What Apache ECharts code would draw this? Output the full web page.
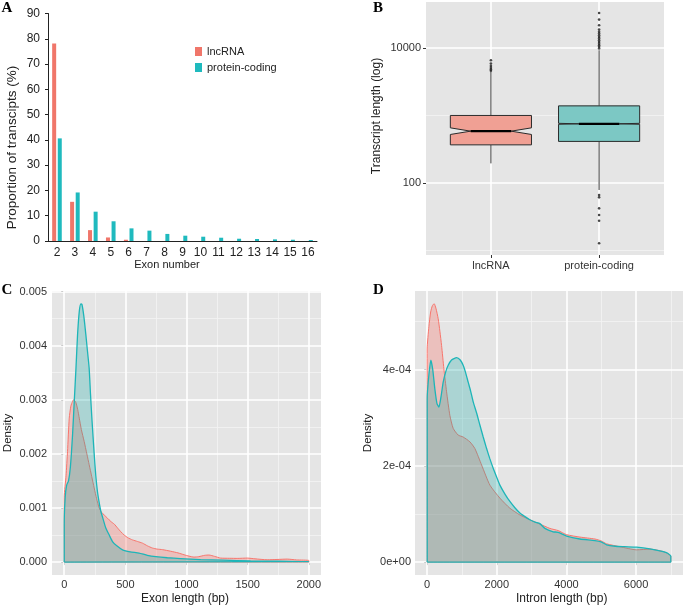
<!DOCTYPE html>
<html><head><meta charset="utf-8">
<script src="https://cdn.jsdelivr.net/npm/echarts@6/dist/echarts.min.js"></script>
<style>html,body{margin:0;padding:0;background:#fff}#c{width:685px;height:606px}</style>
</head><body><div id="c"></div>
<script>
// ---------- Panel A: exon number ----------
const exonNumbers = ['2','3','4','5','6','7','8','9','10','11','12','13','14','15','16'];
const lncExonPct = [78.1, 15.5, 4.3, 1.4, 0.5, 0, 0, 0, 0, 0, 0, 0, 0, 0, 0];
const pcExonPct = [40.6, 19.2, 11.6, 7.8, 5.0, 4.1, 2.8, 2.1, 1.7, 1.3, 0.9, 0.8, 0.65, 0.5, 0.4];

// ---------- Panel B: transcript length boxplot (log scale) ----------
const boxCategories = ['lncRNA', 'protein-coding'];
const boxPositions = [1, 2];
// [lower whisker, Q1, median, Q3, upper whisker, notch low, notch high]
const lncLengthStats = [196, 369, 589, 1007, 4460, 526, 660];
const pcLengthStats = [79, 415, 757, 1397, 9340, 745, 770];
const lncLengthOutliers = [4620, 4830, 5110, 5470, 5930, 6640];
const pcLengthOutliers = [9890, 10500, 11100, 11700, 12400, 13100, 13900, 14700, 15600, 16500, 17500, 18900, 21900, 26600, 33300, 66.4, 61.4, 42.2, 33.6, 27.6, 12.8];
const lengthTicks = [100, 10000];
const lengthMinorTicks = [10, 1000];

// ---------- Panel C: exon length density (density in units of 1e-3) ----------
const exonLenLncX = [0, 15, 27, 41, 54, 68, 77, 95, 110, 123, 140, 163, 185, 204, 225, 245, 265, 286, 305, 327, 354, 381, 410, 436, 463, 490, 520, 558, 600, 640, 680, 721, 760, 803, 871, 930, 980, 1020, 1061, 1100, 1150, 1184, 1230, 1279, 1350, 1420, 1497, 1560, 1660, 1740, 1824, 1900, 2000];
const exonLenLncD = [1.2, 1.6, 2.04, 2.66, 2.88, 2.97, 3.0, 2.95, 2.82, 2.66, 2.45, 2.23, 2.0, 1.80, 1.58, 1.37, 1.17, 1.0, 0.92, 0.87, 0.81, 0.75, 0.70, 0.63, 0.56, 0.50, 0.45, 0.41, 0.38, 0.35, 0.30, 0.26, 0.24, 0.23, 0.20, 0.17, 0.135, 0.11, 0.092, 0.10, 0.125, 0.13, 0.105, 0.074, 0.07, 0.068, 0.074, 0.06, 0.043, 0.048, 0.055, 0.04, 0.03];
const exonLenPcX = [0, 8, 20, 35, 50, 68, 82, 96, 109, 123, 136, 145, 160, 177, 190, 204, 215, 226, 245, 258, 272, 286, 300, 320, 340, 368, 395, 430, 477, 540, 612, 680, 749, 844, 950, 1116, 1300, 1524, 1750, 2000];
const exonLenPcD = [0.7, 1.2, 1.42, 1.5, 1.75, 2.35, 2.97, 3.58, 4.2, 4.63, 4.77, 4.76, 4.55, 4.2, 3.9, 3.58, 3.1, 2.66, 2.0, 1.6, 1.30, 1.1, 0.935, 0.78, 0.63, 0.5, 0.38, 0.3, 0.227, 0.19, 0.166, 0.125, 0.10, 0.08, 0.065, 0.045, 0.035, 0.022, 0.015, 0.01];
const exonLenTicks = [0, 500, 1000, 1500, 2000];
const exonLenMinor = [250, 750, 1250, 1750];
const exonDensTicks = [0, 0.001, 0.002, 0.003, 0.004, 0.005];
const exonDensMinor = [0.0005, 0.0015, 0.0025, 0.0035, 0.0045];

// ---------- Panel D: intron length density (density in units of 1e-4) ----------
const intronLenLncX = [0, 50, 100, 150, 201, 250, 316, 365, 414, 480, 557, 652, 747, 891, 1034, 1227, 1371, 1563, 1802, 2089, 2376, 2664, 2951, 3238, 3526, 3764, 4006, 4388, 4819, 5000, 5155, 5537, 6017, 6400, 6782, 6900, 7000];
const intronLenLncD = [4.43, 4.9, 5.2, 5.33, 5.37, 5.28, 5.06, 4.8, 4.50, 4.02, 3.54, 3.05, 2.78, 2.64, 2.60, 2.50, 2.36, 2.02, 1.60, 1.33, 1.12, 0.98, 0.88, 0.79, 0.70, 0.655, 0.57, 0.52, 0.48, 0.44, 0.38, 0.32, 0.255, 0.27, 0.22, 0.18, 0.12];
const intronLenPcX = [0, 50, 106, 160, 220, 280, 336, 400, 460, 530, 603, 700, 845, 950, 1034, 1100, 1178, 1250, 1322, 1420, 1514, 1610, 1707, 1800, 1897, 2000, 2089, 2230, 2376, 2520, 2664, 2800, 2951, 3100, 3238, 3382, 3621, 3764, 4006, 4388, 4819, 5000, 5155, 5400, 5670, 6017, 6400, 6782, 6900, 7000];
const intronLenPcD = [3.4, 3.9, 4.2, 4.0, 3.6, 3.3, 3.22, 3.45, 3.74, 3.95, 4.09, 4.2, 4.25, 4.2, 4.09, 3.95, 3.74, 3.55, 3.33, 3.1, 2.85, 2.6, 2.36, 2.15, 1.95, 1.76, 1.60, 1.42, 1.26, 1.13, 1.02, 0.95, 0.88, 0.83, 0.80, 0.70, 0.63, 0.62, 0.54, 0.48, 0.448, 0.42, 0.36, 0.33, 0.32, 0.31, 0.276, 0.22, 0.19, 0.12];
const intronLenTicks = [0, 2000, 4000, 6000];
const intronLenMinor = [1000, 3000, 5000, 7000];
const intronDensTicks = [0, 0.0002, 0.0004];
const intronDensMinor = [0.0001, 0.0003, 0.0005];

// ---------- axis ranges (ggplot-style 5% expansion) ----------
const rangeB = {x: [0.4, 2.6], y: [8.58, 48500]};
const rangeC = {x: [-100, 2100], y: [-0.000239, 0.00501]};
const rangeD = {x: [-350, 7350], y: [-0.0000268, 0.0005635]};

// ---------- helpers ----------
const FONT = 'Liberation Sans';
const RED = '#F8766D', TEAL = '#1DB5B8';
const RED_FILL = 'rgba(248,118,109,0.47)', TEAL_FILL = 'rgba(10,165,160,0.38)';
function closedCurve(xs, ds, unit) {
  const pts = [[xs[0], 0]];
  xs.forEach((x, i) => pts.push([x, ds[i] * unit]));
  pts.push([xs[xs.length - 1], 0]);
  pts.push([xs[0], 0]);
  return pts;
}
function gridLines(range, xMajor, xMinor, yMajor, yMinor) {
  const major = {color: '#FFFFFF', width: 1.6, type: 'solid', opacity: 1};
  const minor = {color: '#F4F4F4', width: 0.8, type: 'solid', opacity: 1};
  const d = [];
  const vx = (v, st) => d.push([{coord: [v, range.y[0]], lineStyle: st}, {coord: [v, range.y[1]]}]);
  const hy = (v, st) => d.push([{coord: [range.x[0], v], lineStyle: st}, {coord: [range.x[1], v]}]);
  xMinor.forEach(v => vx(v, minor));
  yMinor.forEach(v => hy(v, minor));
  xMajor.forEach(v => vx(v, major));
  yMajor.forEach(v => hy(v, major));
  return {silent: true, symbol: ['none', 'none'], z: 1, animation: false, label: {show: false}, emphasis: {disabled: true}, data: d};
}
function sciLabel(v) {
  if (v === 0) return '0e+00';
  const e = Math.floor(Math.log10(v) + 1e-9);
  const m = Math.round(v / Math.pow(10, e));
  return m + 'e-' + String(-e).padStart(2, '0');
}
const tickStyle = {show: true, length: 3, lineStyle: {color: '#333', width: 1}};
const lblStyle = {color: '#333', fontSize: 11, fontFamily: FONT};
const boxFills = ['#F0A094', '#7CC8C4'];

const chart = echarts.init(document.getElementById('c'), null, {renderer: 'canvas'});
const option = {
  animation: false,
  textStyle: {fontFamily: FONT},
  legend: {
    data: ['lncRNA', 'protein-coding'], orient: 'vertical', left: 190, top: 41,
    icon: 'rect', itemWidth: 7, itemHeight: 9, itemGap: 5, selectedMode: false,
    textStyle: {fontSize: 11, color: '#222', fontFamily: FONT}
  },
  grid: [
    {left: 48, top: 13.5, width: 269, height: 227.5, show: false},
    {left: 426, top: 2, width: 238, height: 253, show: true, backgroundColor: '#E5E5E5', borderWidth: 0},
    {left: 52, top: 291, width: 269, height: 284, show: true, backgroundColor: '#E5E5E5', borderWidth: 0},
    {left: 415, top: 291, width: 268, height: 284, show: true, backgroundColor: '#E5E5E5', borderWidth: 0}
  ],
  xAxis: [
    {gridIndex: 0, type: 'category', data: exonNumbers, boundaryGap: true,
     axisLine: {lineStyle: {color: '#222', width: 1}}, axisTick: {show: false},
     axisLabel: {color: '#222', fontSize: 12, margin: 6, fontFamily: FONT}, splitLine: {show: false}},
    {gridIndex: 1, type: 'value', min: rangeB.x[0], max: rangeB.x[1],
     axisLine: {show: false}, axisTick: Object.assign({customValues: boxPositions}, tickStyle),
     axisLabel: Object.assign({customValues: boxPositions, margin: 5,
       formatter: v => boxCategories[boxPositions.indexOf(v)]}, lblStyle),
     splitLine: {show: false}},
    {gridIndex: 2, type: 'value', min: rangeC.x[0], max: rangeC.x[1],
     axisLine: {show: false}, axisTick: Object.assign({customValues: exonLenTicks}, tickStyle),
     axisLabel: Object.assign({customValues: exonLenTicks, margin: 4, formatter: v => String(v)}, lblStyle),
     splitLine: {show: false}},
    {gridIndex: 3, type: 'value', min: rangeD.x[0], max: rangeD.x[1],
     axisLine: {show: false}, axisTick: Object.assign({customValues: intronLenTicks}, tickStyle),
     axisLabel: Object.assign({customValues: intronLenTicks, margin: 4, formatter: v => String(v)}, lblStyle),
     splitLine: {show: false}}
  ],
  yAxis: [
    {gridIndex: 0, type: 'value', min: 0, max: 90, interval: 10,
     axisLine: {show: true, lineStyle: {color: '#222', width: 1}},
     axisTick: {show: true, length: 3, lineStyle: {color: '#222'}},
     axisLabel: {color: '#222', fontSize: 12, margin: 8, fontFamily: FONT}, splitLine: {show: false}},
    {gridIndex: 1, type: 'log', logBase: 10, min: rangeB.y[0], max: rangeB.y[1],
     axisLine: {show: false}, axisTick: Object.assign({customValues: lengthTicks}, tickStyle),
     axisLabel: Object.assign({customValues: lengthTicks, margin: 5, formatter: v => String(Math.round(v))}, lblStyle),
     splitLine: {show: false}, minorSplitLine: {show: false}},
    {gridIndex: 2, type: 'value', min: rangeC.y[0], max: rangeC.y[1],
     axisLine: {show: false}, axisTick: Object.assign({customValues: exonDensTicks}, tickStyle),
     axisLabel: Object.assign({customValues: exonDensTicks, margin: 5, formatter: v => v.toFixed(3)}, lblStyle),
     splitLine: {show: false}},
    {gridIndex: 3, type: 'value', min: rangeD.y[0], max: rangeD.y[1],
     axisLine: {show: false}, axisTick: Object.assign({customValues: intronDensTicks}, tickStyle),
     axisLabel: Object.assign({customValues: intronDensTicks, margin: 4, formatter: sciLabel}, lblStyle),
     splitLine: {show: false}}
  ],
  series: [
    // Panel A
    {name: 'lncRNA', type: 'bar', xAxisIndex: 0, yAxisIndex: 0, data: lncExonPct,
     barWidth: 4, barGap: '40%', itemStyle: {color: '#F0766A'}},
    {name: 'protein-coding', type: 'bar', xAxisIndex: 0, yAxisIndex: 0, data: pcExonPct,
     barWidth: 4, barGap: '40%', itemStyle: {color: '#1FBABE'}},
    // Panel B outliers + grid lines
    {name: 'outliers', type: 'scatter', xAxisIndex: 1, yAxisIndex: 1, z: 4,
     data: lncLengthOutliers.map(v => [boxPositions[0], v]).concat(pcLengthOutliers.map(v => [boxPositions[1], v])),
     symbolSize: 2.6, itemStyle: {color: '#1a1a1a'},
     markLine: gridLines(rangeB, boxPositions, [], lengthTicks, lengthMinorTicks)},
    // Panel B boxes
    {name: 'boxes', type: 'custom', xAxisIndex: 1, yAxisIndex: 1, z: 3,
     data: [[boxPositions[0]].concat(lncLengthStats), [boxPositions[1]].concat(pcLengthStats)],
     encode: {x: 0, y: [1, 2, 3, 4, 5]},
     renderItem: function (params, api) {
       const x = api.value(0);
       const yv = k => api.coord([x, api.value(k)])[1];
       const xl = api.coord([x - 0.375, api.value(3)])[0];
       const xr = api.coord([x + 0.375, api.value(3)])[0];
       const xc = api.coord([x, api.value(3)])[0];
       const ind = (xr - xl) * 0.25;
       const yLo = yv(1), yQ1 = yv(2), yMed = yv(3), yQ3 = yv(4), yHi = yv(5), yNl = yv(6), yNh = yv(7);
       const wl = {stroke: '#3a3a3a', lineWidth: 1};
       return {type: 'group', children: [
         {type: 'line', shape: {x1: xc, y1: yQ3, x2: xc, y2: yHi}, style: wl},
         {type: 'line', shape: {x1: xc, y1: yQ1, x2: xc, y2: yLo}, style: wl},
         {type: 'polygon', shape: {points: [[xl, yQ3], [xl, yNh], [xl + ind, yMed], [xl, yNl], [xl, yQ1], [xr, yQ1], [xr, yNl], [xr - ind, yMed], [xr, yNh], [xr, yQ3]]},
          style: {fill: boxFills[params.dataIndex], stroke: '#2b2b2b', lineWidth: 1}},
         {type: 'line', shape: {x1: xl + ind, y1: yMed, x2: xr - ind, y2: yMed}, style: {stroke: '#000', lineWidth: 2.2}}
       ]};
     }},
    // Panel C grid lines (empty helper series)
    {name: 'gridC', type: 'scatter', xAxisIndex: 2, yAxisIndex: 2, data: [], z: 1,
     markLine: gridLines(rangeC, exonLenTicks, exonLenMinor, exonDensTicks, exonDensMinor)},
    // Panel C
    {name: 'lncRNA', type: 'line', xAxisIndex: 2, yAxisIndex: 2, z: 2, smooth: 0.2, showSymbol: false,
     data: closedCurve(exonLenLncX, exonLenLncD, 1e-3),
     lineStyle: {color: RED, width: 1}, itemStyle: {color: RED},
     areaStyle: {color: RED_FILL}},
    {name: 'protein-coding', type: 'line', xAxisIndex: 2, yAxisIndex: 2, z: 3, smooth: 0.2, showSymbol: false,
     data: closedCurve(exonLenPcX, exonLenPcD, 1e-3),
     lineStyle: {color: TEAL, width: 1.3}, itemStyle: {color: TEAL},
     areaStyle: {color: TEAL_FILL}},
    // Panel D grid lines (empty helper series)
    {name: 'gridD', type: 'scatter', xAxisIndex: 3, yAxisIndex: 3, data: [], z: 1,
     markLine: gridLines(rangeD, intronLenTicks, intronLenMinor, intronDensTicks, intronDensMinor)},
    // Panel D
    {name: 'lncRNA', type: 'line', xAxisIndex: 3, yAxisIndex: 3, z: 2, smooth: 0.2, showSymbol: false,
     data: closedCurve(intronLenLncX, intronLenLncD, 1e-4),
     lineStyle: {color: RED, width: 1}, itemStyle: {color: RED},
     areaStyle: {color: RED_FILL}},
    {name: 'protein-coding', type: 'line', xAxisIndex: 3, yAxisIndex: 3, z: 3, smooth: 0.2, showSymbol: false,
     data: closedCurve(intronLenPcX, intronLenPcD, 1e-4),
     lineStyle: {color: TEAL, width: 1.3}, itemStyle: {color: TEAL},
     areaStyle: {color: TEAL_FILL}}
  ],
  graphic: [
    {type: 'text', left: 1.5, top: 1, style: {text: 'A', font: 'bold 15px "Liberation Serif"', fill: '#000'}},
    {type: 'text', left: 373, top: 1, style: {text: 'B', font: 'bold 15px "Liberation Serif"', fill: '#000'}},
    {type: 'text', left: 1.5, top: 283, style: {text: 'C', font: 'bold 15px "Liberation Serif"', fill: '#000'}},
    {type: 'text', left: 373, top: 283, style: {text: 'D', font: 'bold 15px "Liberation Serif"', fill: '#000'}},
    {type: 'text', x: 12, y: 147.5, rotation: Math.PI / 2,
     style: {text: 'Proportion of transcipts (%)', font: '13.5px "Liberation Sans"', fill: '#222', align: 'center', verticalAlign: 'middle'}},
    {type: 'text', x: 167, y: 265, style: {text: 'Exon number', font: '11px "Liberation Sans"', fill: '#222', align: 'center', verticalAlign: 'middle'}},
    {type: 'text', x: 376.7, y: 116, rotation: Math.PI / 2,
     style: {text: 'Transcript length (log)', font: '12px "Liberation Sans"', fill: '#222', align: 'center', verticalAlign: 'middle'}},
    {type: 'text', x: 7.5, y: 433, rotation: Math.PI / 2,
     style: {text: 'Density', font: '11.5px "Liberation Sans"', fill: '#222', align: 'center', verticalAlign: 'middle'}},
    {type: 'text', x: 185, y: 598.3, style: {text: 'Exon length (bp)', font: '12px "Liberation Sans"', fill: '#222', align: 'center', verticalAlign: 'middle'}},
    {type: 'text', x: 368.3, y: 433, rotation: Math.PI / 2,
     style: {text: 'Density', font: '11.5px "Liberation Sans"', fill: '#222', align: 'center', verticalAlign: 'middle'}},
    {type: 'text', x: 561.7, y: 598.3, style: {text: 'Intron length (bp)', font: '12px "Liberation Sans"', fill: '#222', align: 'center', verticalAlign: 'middle'}}
  ]
};
chart.setOption(option);
</script>
</body></html>
